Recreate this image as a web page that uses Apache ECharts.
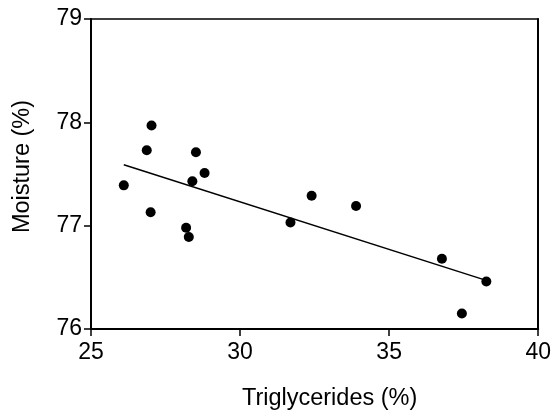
<!DOCTYPE html>
<html><head><meta charset="utf-8">
<script src="https://cdn.jsdelivr.net/npm/echarts@6/dist/echarts.min.js"></script>
<style>html,body{margin:0;padding:0;background:#fff}#c{width:554px;height:417px}</style>
</head><body><div id="c"></div>
<script>
const triglycerides = [26.1, 26.87, 27.03, 27.0, 28.19, 28.28, 28.4, 28.52, 28.81, 31.69, 32.4, 33.89, 36.77, 37.44, 38.26];
const moisture = [77.39, 77.73, 77.97, 77.13, 76.98, 76.89, 77.43, 77.71, 77.51, 77.03, 77.29, 77.19, 76.68, 76.15, 76.46];
const fitX = [26.1, 38.15];
const fitY = [77.59, 76.48];
const xTicks = [25, 30, 35, 40];
const yTicks = [76, 77, 78, 79];

const font = 'Liberation Sans, Arial, sans-serif';
const chart = echarts.init(document.getElementById('c'));
chart.setOption({
  animation: false,
  grid: {left: 91, right: 14, top: 19, bottom: 88},
  xAxis: [{
    type: 'value', min: xTicks[0], max: xTicks[xTicks.length-1], interval: 5,
    name: 'Triglycerides (%)', nameLocation: 'middle', nameGap: 58,
    nameTextStyle: {fontFamily: font, fontSize: 23.5, color: '#000', padding: [0, 0, 0, 30]},
    axisLine: {lineStyle: {color: '#000', width: 2}},
    axisTick: {show: true, length: 7, lineStyle: {color: '#000', width: 1.5}},
    axisLabel: {fontFamily: font, fontSize: 23, color: '#000', margin: 12},
    splitLine: {show: false}
  }, {
    type: 'value', position: 'top', min: 25, max: 40,
    axisLine: {show: true, onZero: false, lineStyle: {color: '#000', width: 1.5}},
    axisTick: {show: false}, axisLabel: {show: false}, splitLine: {show: false}
  }],
  yAxis: [{
    type: 'value', min: yTicks[0], max: yTicks[yTicks.length-1], interval: 1,
    name: 'Moisture (%)', nameLocation: 'middle', nameGap: 56,
    nameTextStyle: {fontFamily: font, fontSize: 23.5, color: '#000', padding: [0, 0, 0, 15]},
    axisLine: {show: true, lineStyle: {color: '#000', width: 2}},
    axisTick: {show: true, length: 7, lineStyle: {color: '#000', width: 1.5}},
    axisLabel: {fontFamily: font, fontSize: 23, color: '#000', margin: 9},
    splitLine: {show: false}
  }, {
    type: 'value', position: 'right', min: 76, max: 79,
    axisLine: {show: true, onZero: false, lineStyle: {color: '#000', width: 2}},
    axisTick: {show: false}, axisLabel: {show: false}, splitLine: {show: false}
  }],
  series: [{
    type: 'scatter', symbol: 'circle', symbolSize: 10,
    itemStyle: {color: '#000', opacity: 1},
    data: triglycerides.map((x, i) => [x, moisture[i]])
  }, {
    type: 'line', symbol: 'none', lineStyle: {color: '#000', width: 1.5},
    data: fitX.map((x, i) => [x, fitY[i]])
  }]
});
</script></body></html>
